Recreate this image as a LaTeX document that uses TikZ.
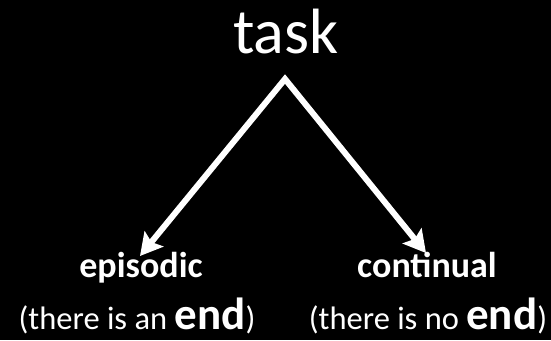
\documentclass[tikz,border=0pt]{standalone}
\usepackage{fontspec}
\setmainfont{Carlito}
\usetikzlibrary{arrows.meta}
\begin{document}
\begin{tikzpicture}[x=1pt,y=-1pt,
  label/.style={text=white,inner sep=0pt,anchor=base},
  branch/.style={draw=white,line width=6pt,line join=miter,
    arrows={Stealth[length=22pt,width=24pt,inset=4pt]-Stealth[length=22pt,width=24pt,inset=4pt]}}]
  % black backdrop fixing the page size
  \fill[black] (0,0) rectangle (551,340);
  \useasboundingbox (0,0) rectangle (551,340);
  % labels
  \node[label] (task) at (286,53) {\fontsize{64}{66}\selectfont task};
  \node[label] (epi) at (141,277) {\fontsize{36}{40}\selectfont\bfseries episodic};
  \node[label] (cont) at (427,277) {\fontsize{36}{40}\selectfont\bfseries continual};
  \node[label] (epinote) at (137,329.5) {\fontsize{32.5}{40}\selectfont (there is an {\bfseries\fontsize{45}{50}\selectfont end})};
  \node[label] (contnote) at (428,329.5) {\fontsize{32.5}{40}\selectfont (there is no {\bfseries\fontsize{45}{50}\selectfont end})};
  % branching arrows
  \coordinate (apex) at (285,79);
  \coordinate (ltip) at (140,256);
  \coordinate (rtip) at (426,253);
  \draw[branch] (ltip) -- (apex) -- (rtip);
\end{tikzpicture}
\end{document}
